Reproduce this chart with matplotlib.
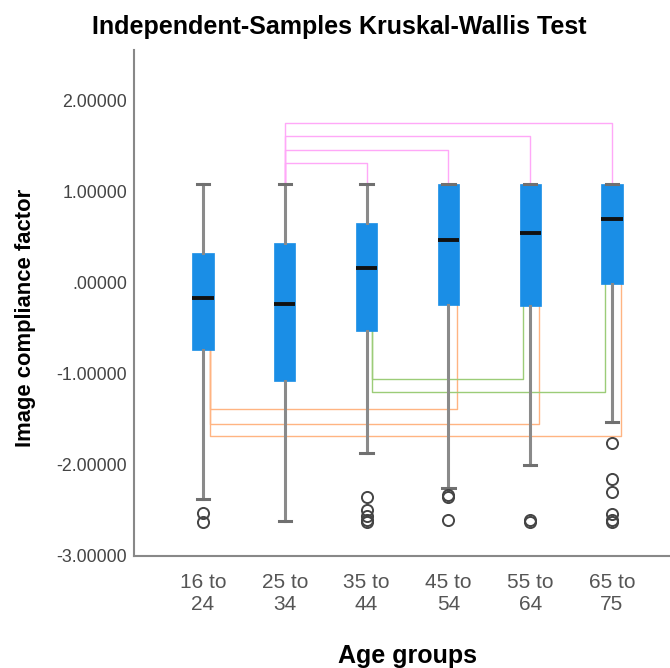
import matplotlib
matplotlib.use("Agg")
import matplotlib.pyplot as plt

plt.rcParams['font.family'] = ['Liberation Sans', 'DejaVu Sans']

# age groups and box statistics
groups = ["16 to\n24", "25 to\n34", "35 to\n44", "45 to\n54", "55 to\n64", "65 to\n75"]
q1 = [-0.74, -1.08, -0.53, -0.24, -0.26, -0.02]
med = [-0.17, -0.23, 0.16, 0.47, 0.54, 0.70]
q3 = [0.33, 0.44, 0.66, 1.085, 1.085, 1.085]
whislo = [-2.38, -2.62, -1.87, -2.25, -2.00, -1.53]
whishi = [1.085, 1.085, 1.085, 1.085, 1.085, 1.085]
fliers = [
    [-2.53, -2.63],
    [],
    [-2.35, -2.49, -2.56, -2.61, -2.63],
    [-2.33, -2.35, -2.61],
    [-2.61, -2.63],
    [-1.76, -2.16, -2.30, -2.54, -2.61, -2.63],
]

# significant pairwise comparisons: (group a, group b, level)
pink_pairs = [(2, 3, 1.31), (2, 4, 1.46), (2, 5, 1.61), (2, 6, 1.75)]
orange_pairs = [(1, 4, -1.39), (1, 5, -1.55), (1, 6, -1.68)]
green_pairs = [(3, 5, -1.06), (3, 6, -1.20)]

stats = []
for i in range(len(groups)):
    stats.append(dict(q1=q1[i], med=med[i], q3=q3[i], whislo=whislo[i],
                      whishi=whishi[i], fliers=fliers[i]))

fig = plt.figure(figsize=(6.7, 6.68), dpi=100)
ax = fig.add_axes([0.2, 0.1677, 0.8, 0.757])

pos = list(range(1, len(groups) + 1))

# comparison lines first so boxes sit on top
for a, b, lev in pink_pairs:
    ax.plot([a, a, b, b], [whishi[a - 1], lev, lev, q3[b - 1]],
            color='#ffa8f8', lw=1.0, zorder=1)
for a, b, lev in orange_pairs:
    ax.plot([a + 0.08, a + 0.08, b + 0.11, b + 0.11], [q1[a - 1], lev, lev, q1[b - 1]],
            color='#ffb482', lw=1.0, zorder=1)
for a, b, lev in green_pairs:
    ax.plot([a + 0.07, a + 0.07, b - 0.09, b - 0.09], [q1[a - 1], lev, lev, q1[b - 1]],
            color='#9ccc78', lw=1.0, zorder=1)

ax.bxp(stats, positions=pos, widths=0.26, patch_artist=True, capwidths=0.15,
       boxprops=dict(facecolor='#1a8ee6', edgecolor='#1a8ee6', lw=0.5),
       whiskerprops=dict(color='#8a8a8a', lw=2.2),
       capprops=dict(color='#707070', lw=2.2),
       medianprops=dict(color='#111111', lw=2.8),
       flierprops=dict(marker='o', markerfacecolor='none', markeredgecolor='#444444',
                       markersize=8, markeredgewidth=1.4),
       zorder=3)

ax.set_xlim(0.156, 6.71)
ax.set_ylim(-3.0, 2.55)
ax.set_yticks([2, 1, 0, -1, -2, -3])
ax.set_yticklabels(["2.00000", "1.00000", ".00000", "-1.00000", "-2.00000", "-3.00000"])
ax.set_xticks(pos)
ax.set_xticklabels(groups, linespacing=1.22)
ax.tick_params(axis='y', length=0, labelsize=12.8, labelcolor='#444444', pad=5)
ax.tick_params(axis='x', length=0, labelsize=15, labelcolor='#555555', pad=12)

ax.spines['top'].set_visible(False)
ax.spines['right'].set_visible(False)
ax.spines['left'].set_color('#888888')
ax.spines['bottom'].set_color('#888888')
ax.spines['left'].set_linewidth(1.5)
ax.spines['bottom'].set_linewidth(1.5)

ax.set_ylabel("Image compliance factor", fontsize=15.8, fontweight='bold')
ax.yaxis.set_label_coords(-0.182, 0.47)
ax.set_xlabel("Age groups", fontsize=18, fontweight='bold')
ax.xaxis.set_label_coords(0.511, -0.174)
fig.text(0.507, 0.96, "Independent-Samples Kruskal-Wallis Test", ha='center', va='center',
         fontsize=18, fontweight='bold')

fig.savefig("out.png", dpi=100)
